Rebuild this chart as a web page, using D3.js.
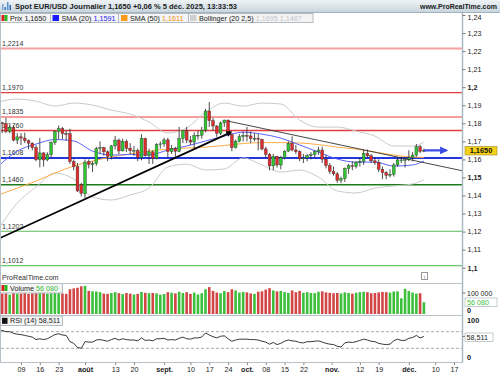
<!DOCTYPE html>
<html><head><meta charset="utf-8">
<script src="https://cdnjs.cloudflare.com/ajax/libs/d3/7.8.5/d3.min.js"></script>
<style>
body{margin:0;background:#fff;}
svg{display:block;font-family:"Liberation Sans",Arial,sans-serif;}
</style></head><body><svg id="chart" width="500" height="375"></svg>
<script>
// daily candles, first one is 2025-07-01 (weekdays only)
const startDate = "2025-07-01";
const opens = [1.1787,1.1803,1.1798,1.1755,1.1778,1.1707,1.1725,1.1718,1.1704,1.1690,
  1.1665,1.1598,1.1636,1.1597,1.1626,1.1693,1.1755,1.1771,1.1743,1.1742,
  1.1588,1.1560,1.1460,1.1410,1.1587,1.1572,1.1576,1.1660,1.1665,1.1642,
  1.1617,1.1675,1.1707,1.1647,1.1700,1.1662,1.1649,1.1649,1.1610,1.1717,
  1.1622,1.1642,1.1606,1.1682,1.1686,1.1708,1.1643,1.1661,1.1645,1.1716,
  1.1760,1.1707,1.1696,1.1733,1.1734,1.1762,1.1868,1.1814,1.1785,1.1745,
  1.1802,1.1818,1.1737,1.1665,1.1701,1.1726,1.1733,1.1730,1.1716,1.1717,
  1.1711,1.1658,1.1628,1.1564,1.1617,1.1569,1.1609,1.1646,1.1689,1.1652,
  1.1643,1.1603,1.1608,1.1620,1.1627,1.1643,1.1652,1.1601,1.1566,1.1534,
  1.1520,1.1484,1.1493,1.1549,1.1565,1.1561,1.1583,1.1590,1.1633,1.1620,
  1.1592,1.1582,1.1545,1.1527,1.1512,1.1518,1.1569,1.1597,1.1597,1.1598,
  1.1610,1.1624,1.1670,1.1645];
const highs = [1.1830,1.1808,1.1830,1.1790,1.1790,1.1745,1.1745,1.1748,1.1710,1.1695,
  1.1680,1.1720,1.1640,1.1640,1.1700,1.1760,1.1788,1.1780,1.1760,1.1770,
  1.1600,1.1580,1.1470,1.1600,1.1600,1.1590,1.1670,1.1700,1.1670,1.1650,
  1.1680,1.1730,1.1716,1.1715,1.1710,1.1690,1.1675,1.1660,1.1740,1.1720,
  1.1660,1.1650,1.1690,1.1700,1.1720,1.1720,1.1680,1.1670,1.1780,1.1760,
  1.1780,1.1730,1.1750,1.1760,1.1780,1.1880,1.1918,1.1830,1.1790,1.1810,
  1.1820,1.1820,1.1745,1.1710,1.1740,1.1755,1.1780,1.1755,1.1745,1.1740,
  1.1715,1.1670,1.1635,1.1630,1.1620,1.1620,1.1650,1.1700,1.1728,1.1680,
  1.1650,1.1630,1.1630,1.1640,1.1650,1.1670,1.1670,1.1625,1.1580,1.1560,
  1.1530,1.1505,1.1555,1.1575,1.1590,1.1590,1.1610,1.1655,1.1655,1.1630,
  1.1610,1.1600,1.1560,1.1535,1.1545,1.1580,1.1610,1.1615,1.1610,1.1650,
  1.1640,1.1685,1.1680,1.1660];
const lows = [1.1760,1.1746,1.1745,1.1745,1.1700,1.1685,1.1680,1.1690,1.1655,1.1650,
  1.1590,1.1556,1.1560,1.1590,1.1610,1.1680,1.1712,1.1710,1.1705,1.1575,
  1.1540,1.1420,1.1395,1.1386,1.1550,1.1530,1.1565,1.1630,1.1620,1.1590,
  1.1600,1.1655,1.1630,1.1645,1.1640,1.1630,1.1620,1.1590,1.1595,1.1615,
  1.1575,1.1575,1.1600,1.1660,1.1670,1.1610,1.1630,1.1610,1.1640,1.1690,
  1.1690,1.1680,1.1660,1.1710,1.1715,1.1750,1.1780,1.1760,1.1725,1.1735,
  1.1780,1.1730,1.1645,1.1660,1.1695,1.1700,1.1700,1.1690,1.1700,1.1650,
  1.1650,1.1610,1.1540,1.1540,1.1555,1.1545,1.1600,1.1640,1.1645,1.1630,
  1.1590,1.1580,1.1590,1.1600,1.1610,1.1625,1.1580,1.1550,1.1520,1.1510,
  1.1470,1.1468,1.1475,1.1520,1.1540,1.1550,1.1560,1.1570,1.1610,1.1580,
  1.1570,1.1530,1.1490,1.1490,1.1500,1.1505,1.1560,1.1580,1.1555,1.1590,
  1.1590,1.1615,1.1635,1.1640];
const closes = [1.1803,1.1798,1.1755,1.1778,1.1707,1.1725,1.1718,1.1704,1.1690,1.1665,
  1.1598,1.1636,1.1597,1.1626,1.1693,1.1755,1.1771,1.1743,1.1742,1.1588,
  1.1560,1.1425,1.1412,1.1585,1.1572,1.1576,1.1660,1.1665,1.1642,1.1617,
  1.1675,1.1707,1.1647,1.1700,1.1662,1.1649,1.1650,1.1610,1.1717,1.1622,
  1.1642,1.1606,1.1682,1.1686,1.1708,1.1643,1.1661,1.1645,1.1716,1.1760,
  1.1707,1.1696,1.1733,1.1734,1.1762,1.1868,1.1814,1.1785,1.1745,1.1802,
  1.1818,1.1737,1.1665,1.1701,1.1726,1.1733,1.1730,1.1716,1.1717,1.1711,
  1.1658,1.1628,1.1564,1.1617,1.1569,1.1609,1.1646,1.1689,1.1652,1.1643,
  1.1603,1.1608,1.1620,1.1627,1.1643,1.1652,1.1601,1.1566,1.1534,1.1520,
  1.1484,1.1493,1.1549,1.1565,1.1561,1.1583,1.1590,1.1633,1.1620,1.1592,
  1.1582,1.1545,1.1527,1.1512,1.1518,1.1569,1.1597,1.1597,1.1598,1.1610,
  1.1624,1.1670,1.1645,1.1650];
const volumes = [102000,98000,99000,92000,100000,97000,98000,101000,96000,99000,
  104000,108000,101000,97000,99000,103000,100000,98000,96000,118000,
  122000,125000,132000,134000,110000,108000,107000,104000,97000,96000,
  100000,104000,99000,95000,100000,97000,93000,96000,105000,101000,
  99000,100000,98000,92000,95000,104000,101000,98000,106000,100000,
  104000,96000,102000,93000,99000,118000,128000,110000,102000,99000,
  109000,104000,118000,112000,102000,105000,103000,98000,96000,106000,
  108000,116000,123000,112000,108000,110000,104000,100000,112000,104000,
  110000,101000,104000,100000,99000,106000,108000,103000,101000,99000,
  100000,98000,103000,100000,97000,101000,104000,106000,104000,99000,
  100000,103000,105000,104000,102000,107000,108000,75000,120000,110000,
  102000,97000,99000,56080];
const rsi = [75,73,70,70,66,64,63,61,59,57,
  51,53,51,53,58,63,65,62,61,46,
  42,32,30,46,45,45,50,51,49,47,
  51,54,50,53,51,50,50,48,55,49,
  50,48,53,53,54,50,51,50,54,57,
  53,52,55,55,57,67,62,58,55,59,
  60,53,47,50,52,52,52,51,51,50,
  47,45,40,44,39,42,47,50,48,47,
  44,43,46,46,47,48,45,42,40,39,
  35,33,43,45,44,46,49,52,50,47,
  46,42,40,39,40,48,52,49,49,54,
  56,61,55,58.511];

// indicator lines, one value per week
const maIndex = [0,5,10,15,20,25,30,35,40,45,50,55,60,65,70,75,80,85,90,95,100,105,110,113];
const sma20 = [1.1563,1.1646,1.1685,1.1710,1.1702,1.1646,1.1624,1.1627,1.1624,1.1652,1.1674,1.1702,
  1.1729,1.1751,1.1740,1.1718,1.1680,1.1641,1.1602,1.1585,1.1585,1.1563,1.1569,1.1591];
const sma50 = [1.1403,1.1441,1.1480,1.1524,1.1563,1.1591,1.1613,1.1630,1.1646,1.1657,1.1663,1.1668,
  1.1677,1.1688,1.1693,1.1693,1.1691,1.1682,1.1668,1.1657,1.1641,1.1624,1.1613,1.1611];
const bbUpper = [1.1918,1.1934,1.1923,1.1895,1.1912,1.1901,1.1873,1.1851,1.1807,1.1746,1.1774,1.1862,
  1.1912,1.1895,1.1912,1.1907,1.1818,1.1779,1.1779,1.1757,1.1729,1.1674,1.1674,1.1695];
const bbLower = [1.1214,1.1358,1.1447,1.1524,1.1491,1.1392,1.1375,1.1403,1.1441,1.1558,1.1574,1.1541,
  1.1547,1.1608,1.1569,1.1530,1.1541,1.1502,1.1425,1.1414,1.1441,1.1453,1.1464,1.1487];

const levelValues = [1.2214,1.1970,1.1835,1.1760,1.1608,1.1460,1.1202,1.1012];
const levelLabels = ["1,2214","1,1970","1,1835","1,1760","1,1608","1,1460","1,1202","1,1012"];

// [candle index, price]
const supportLine = [[0,1.1160],[61.7,1.1750]];
const resistLine = [[61,1.1812],[123.2,1.1537]];
const arrowLine = [[113,1.1650],[119,1.1650]];

const priceTicks = [1.24,1.23,1.22,1.21,1.2,1.19,1.18,1.17,1.16,1.15,1.14,1.13,1.12,1.11,1.1];
const priceTickLabels = ["1,24","1,23","1,22","1,21","1,2","1,19","1,18","1,17","1,16","1,15","1,14","1,13","1,12","1,11","1,1"];

const xTickDates = ["2025-07-09","2025-07-16","2025-07-23","2025-08-01","2025-08-13","2025-08-20","2025-09-01",
  "2025-09-10","2025-09-17","2025-09-24","2025-10-01","2025-10-08","2025-10-15","2025-10-22","2025-11-01",
  "2025-11-12","2025-11-19","2025-12-01","2025-12-10","2025-12-17"];
const xTickLabels = ["09","16","23","août","13","20","sept.","10","17","24","oct.","08","15","22","nov.","12","19","déc.","10","17"];
const monthLabels = ["août","sept.","oct.","nov.","déc."];

// trading day index of a date (weekends fall between two days)
function dayIndex(s) {
	const t0 = Date.parse(startDate + "T00:00:00Z"), t1 = Date.parse(s + "T00:00:00Z");
	let n = 0;
	for (let t = t0; t < t1; t += 86400000) {
		const wd = new Date(t).getUTCDay();
		if (wd !== 0 && wd !== 6) n++;
	}
	const wd1 = new Date(t1).getUTCDay();
	return (wd1 === 0 || wd1 === 6) ? n - 0.5 : n;
}

const svg = d3.select("#chart");
const axisX = 462.5;

const x = d3.scaleLinear().domain([6, 121]).range([21, 454]);
const y = d3.scaleLinear().domain([1.10, 1.24]).range([267.7, 15]);
const yVol = d3.scaleLinear().domain([0, 100000]).range([314, 293]);
const yRsi = d3.scaleLinear().domain([0, 100]).range([360.8, 319.2]);

const defs = svg.append("defs");
const hg = defs.append("linearGradient").attr("id", "hdr").attr("x1", 0).attr("y1", 0).attr("x2", 0).attr("y2", 1);
hg.append("stop").attr("offset", "0%").attr("stop-color", "#eef3f6");
hg.append("stop").attr("offset", "100%").attr("stop-color", "#c9d6de");
defs.append("clipPath").attr("id", "plot").append("rect")
	.attr("x", 1).attr("y", 23).attr("width", axisX - 1).attr("height", 260);
defs.append("clipPath").attr("id", "rsiclip").append("rect")
	.attr("x", 1).attr("y", 316).attr("width", axisX - 1).attr("height", 46);
defs.append("marker").attr("id", "ablack").attr("viewBox", "0 0 10 10").attr("refX", 7).attr("refY", 5)
	.attr("markerUnits", "userSpaceOnUse").attr("markerWidth", 6).attr("markerHeight", 6).attr("orient", "auto")
	.append("path").attr("d", "M0,0L10,5L0,10z").attr("fill", "#000");
defs.append("marker").attr("id", "ablue").attr("viewBox", "0 0 10 10").attr("refX", 8).attr("refY", 5)
	.attr("markerUnits", "userSpaceOnUse").attr("markerWidth", 8).attr("markerHeight", 8).attr("orient", "auto")
	.append("path").attr("d", "M0,0L10,5L0,10z").attr("fill", "#3a4ee6");

// header
svg.append("rect").attr("x", 0).attr("y", 0).attr("width", 500).attr("height", 12).attr("fill", "url(#hdr)");
svg.append("line").attr("x1", 0).attr("x2", 500).attr("y1", 12.5).attr("y2", 12.5).attr("stroke", "#a3b3be");
[[2, 6, "#7aa7d8"], [4.5, 3, "#3b78c6"], [7, 8, "#5d93d2"], [9.5, 5, "#2f66b5"]].forEach(b => {
	svg.append("rect").attr("x", b[0]).attr("y", 10 - b[1]).attr("width", 1.5).attr("height", b[1]).attr("fill", b[2]);
});
svg.append("text").attr("x", 15).attr("y", 9).attr("font-size", 7.5).attr("font-weight", "bold").attr("fill", "#1b1b1b")
	.text("Spot EUR/USD Journalier 1,1650 +0,06 % 5 déc. 2025, 13:33:53");
svg.append("text").attr("x", 497).attr("y", 9).attr("text-anchor", "end").attr("font-size", 7).attr("font-weight", "bold")
	.attr("fill", "#1b1b1b").text("www.ProRealTime.com");

// legend row
const leg = svg.append("g");
leg.append("rect").attr("x", 0.5).attr("y", 13.5).attr("width", 312.5).attr("height", 9).attr("fill", "#f4f4f4").attr("stroke", "#b3bcc3");
[50.5, 118.5, 188.5].forEach(d => leg.append("line").attr("x1", d).attr("x2", d).attr("y1", 13.5).attr("y2", 22.5).attr("stroke", "#b3bcc3"));
leg.append("rect").attr("x", 1.5).attr("y", 15).attr("width", 3).attr("height", 6).attr("fill", "#d22");
leg.append("rect").attr("x", 4.5).attr("y", 15).attr("width", 3).attr("height", 6).attr("fill", "#2b2");
leg.append("rect").attr("x", 52.5).attr("y", 15).attr("width", 6.5).attr("height", 6).attr("fill", "#1a1aff");
leg.append("rect").attr("x", 121).attr("y", 15).attr("width", 6.5).attr("height", 6).attr("fill", "#ff9a1a");
leg.append("rect").attr("x", 190).attr("y", 15).attr("width", 6.5).attr("height", 6).attr("fill", "#cfcfcf");
function legText(xp, parts) {
	const t = leg.append("text").attr("x", xp).attr("y", 20.6).attr("font-size", 7.2);
	parts.forEach(p => t.append("tspan").attr("fill", p[1]).text(p[0]));
}
legText(10, [["Prix 1,1650", "#222"]]);
legText(61.5, [["SMA (20) ", "#222"], ["1,1591", "#2323ff"]]);
legText(130, [["SMA (50) ", "#222"], ["1,1611", "#f5950f"]]);
legText(199, [["Bollinger (20 2,5) ", "#222"], ["1,1695 1,1487", "#c4c4c4"]]);

// frame and panel separators
svg.append("line").attr("x1", 0.5).attr("x2", 0.5).attr("y1", 23).attr("y2", 362).attr("stroke", "#b7c1c8");
[283.5, 315.5, 362.5].forEach(v => svg.append("line").attr("x1", 0).attr("x2", axisX).attr("y1", v).attr("y2", v).attr("stroke", "#b9c2c8"));

// price panel
const plot = svg.append("g").attr("clip-path", "url(#plot)");
const levelColors = ["#f4a0a0", "#e23c3c", "#f27c7c", "#e23c3c", "#2436e0", "#1d7a1d", "#5cba5c", "#6cc46c"];
const levelWidths = [2, 1.3, 1.5, 1.3, 2, 1.5, 1.2, 1.2];
levelValues.forEach((v, k) => {
	plot.append("line").attr("x1", 1).attr("x2", axisX).attr("y1", y(v)).attr("y2", y(v))
		.attr("stroke", levelColors[k]).attr("stroke-width", levelWidths[k]);
	plot.append("text").attr("x", 2).attr("y", y(v) - 2.5).attr("font-size", 7).attr("fill", "#333").text(levelLabels[k]);
});

const maLine = (vals) => d3.line().curve(d3.curveMonotoneX)
	.x((d, k) => x(maIndex[k])).y(d => y(d))(vals);
plot.append("path").attr("d", maLine(bbUpper)).attr("fill", "none").attr("stroke", "#cacaca").attr("stroke-width", 1);
plot.append("path").attr("d", maLine(bbLower)).attr("fill", "none").attr("stroke", "#cacaca").attr("stroke-width", 1);
plot.append("path").attr("d", maLine(sma50)).attr("fill", "none").attr("stroke", "#ffab45").attr("stroke-width", 1);
plot.append("path").attr("d", maLine(sma20)).attr("fill", "none").attr("stroke", "#5a64ff").attr("stroke-width", 1);

const candles = plot.selectAll("g.candle").data(closes).enter().append("g").attr("class", "candle");
candles.append("line")
	.attr("x1", (d, i) => x(i)).attr("x2", (d, i) => x(i))
	.attr("y1", (d, i) => y(highs[i])).attr("y2", (d, i) => y(lows[i]))
	.attr("stroke", "#222").attr("stroke-width", 0.8);
candles.append("rect")
	.attr("x", (d, i) => x(i) - 1.4).attr("width", 2.8)
	.attr("y", (d, i) => y(Math.max(opens[i], d)))
	.attr("height", (d, i) => Math.max(0.8, Math.abs(y(opens[i]) - y(d))))
	.attr("fill", (d, i) => d >= opens[i] ? "#2fc52f" : "#e02b2b")
	.attr("stroke", "#333").attr("stroke-width", 0.4);

const tline = d3.line().x(d => x(d[0])).y(d => y(d[1]));
plot.append("path").attr("d", tline(supportLine)).attr("stroke", "#000").attr("stroke-width", 1.8).attr("fill", "none")
	.attr("marker-end", "url(#ablack)");
plot.append("path").attr("d", tline(resistLine)).attr("stroke", "#333").attr("stroke-width", 0.9).attr("fill", "none");
plot.append("path").attr("d", tline(arrowLine)).attr("stroke", "#3a4ee6").attr("stroke-width", 2.2).attr("fill", "none")
	.attr("marker-end", "url(#ablue)");

svg.append("text").attr("x", 2).attr("y", 280).attr("font-size", 7.1).attr("fill", "#333").text("ProRealTime.com");
svg.append("rect").attr("x", 421.5).attr("y", 272.5).attr("width", 6).attr("height", 7).attr("fill", "#fff").attr("stroke", "#999");
svg.append("text").attr("x", 424.5).attr("y", 278.6).attr("text-anchor", "middle").attr("font-size", 6).attr("fill", "#888").text("i");

// right axis
svg.append("line").attr("x1", axisX).attr("x2", axisX).attr("y1", 12.5).attr("y2", 362.5).attr("stroke", "#a9bac5").attr("stroke-width", 1.5);
const yAxis = d3.axisRight(y).tickValues(priceTicks).tickSize(3).tickPadding(2)
	.tickFormat((d, k) => priceTickLabels[k]);
const ya = svg.append("g").attr("transform", "translate(" + axisX + ",0)").call(yAxis);
ya.select(".domain").remove();
ya.selectAll("line").attr("stroke", "#777");
ya.selectAll("text").attr("font-size", 7.2).attr("fill", "#222").attr("font-family", "Liberation Sans, Arial, sans-serif")
	.attr("font-weight", d => [1.2, 1.15, 1.1].includes(d) ? "bold" : "normal")
	.attr("dy", d => d === 1.24 ? "0.6em" : "0.32em");

svg.append("rect").attr("x", 465).attr("y", 146.5).attr("width", 32).attr("height", 8.5)
	.attr("fill", "#f7d117").attr("stroke", "#9a8a30").attr("stroke-width", 0.6);
svg.append("text").attr("x", 481).attr("y", 153.4).attr("text-anchor", "middle").attr("font-size", 7.4).attr("font-weight", "bold")
	.attr("fill", "#111").text("1,1650");

// volume panel
const vol = svg.append("g");
vol.selectAll("rect").data(volumes).enter().append("rect")
	.attr("x", (d, i) => x(i) - 1.3).attr("width", 2.6)
	.attr("y", d => yVol(d)).attr("height", d => yVol(0) - yVol(d))
	.attr("fill", (d, i) => closes[i] >= opens[i] ? "#3cc03c" : "#d24646");
vol.append("rect").attr("x", 0.5).attr("y", 283.5).attr("width", 62).attr("height", 9.5).attr("fill", "#f4f4f4").attr("stroke", "#b3bcc3");
vol.append("rect").attr("x", 1.5).attr("y", 285).attr("width", 3).attr("height", 6).attr("fill", "#d22");
vol.append("rect").attr("x", 4.5).attr("y", 285).attr("width", 3).attr("height", 6).attr("fill", "#2b2");
const vt = vol.append("text").attr("x", 10).attr("y", 290.8).attr("font-size", 7.2);
vt.append("tspan").attr("fill", "#222").text("Volume ");
vt.append("tspan").attr("fill", "#3cbf3c").text("56 080");
svg.append("line").attr("x1", axisX).attr("x2", axisX + 3).attr("y1", yVol(100000)).attr("y2", yVol(100000)).attr("stroke", "#777");
svg.append("text").attr("x", 467).attr("y", yVol(100000) + 2.5).attr("font-size", 7).attr("fill", "#222").text("100 000");
svg.append("rect").attr("x", 465).attr("y", 298).attr("width", 32).attr("height", 8.5).attr("fill", "#fff").attr("stroke", "#9aa").attr("stroke-width", 0.6);
svg.append("text").attr("x", 467).attr("y", 304.8).attr("font-size", 7.2).attr("fill", "#3cbf3c").text("56 080");
svg.append("text").attr("x", 467).attr("y", 313).attr("font-size", 7.4).attr("font-weight", "bold").attr("fill", "#222").text("0");

// RSI panel
const rp = svg.append("g").attr("clip-path", "url(#rsiclip)");
[70, 30].forEach(v => rp.append("line").attr("x1", 1).attr("x2", axisX).attr("y1", yRsi(v)).attr("y2", yRsi(v))
	.attr("stroke", "#a8a8a8").attr("stroke-dasharray", "3,2"));
rp.append("path").attr("d", d3.line().x((d, i) => x(i)).y(d => yRsi(d))(rsi))
	.attr("fill", "none").attr("stroke", "#222").attr("stroke-width", 0.9);
svg.append("rect").attr("x", 0.5).attr("y", 316).attr("width", 62).attr("height", 9.5).attr("fill", "#f4f4f4").attr("stroke", "#b3bcc3");
svg.append("rect").attr("x", 2).attr("y", 317.8).attr("width", 5.5).attr("height", 6).attr("fill", "#111");
svg.append("text").attr("x", 10).attr("y", 323.4).attr("font-size", 7.2).attr("fill", "#222").text("RSI (14) 58,511");
svg.append("text").attr("x", 467).attr("y", 322.6).attr("font-size", 7.4).attr("font-weight", "bold").attr("fill", "#222").text("100");
svg.append("text").attr("x", 467).attr("y", 360).attr("font-size", 7.4).attr("font-weight", "bold").attr("fill", "#222").text("0");
svg.append("line").attr("x1", axisX).attr("x2", axisX + 3).attr("y1", yRsi(58.511)).attr("y2", yRsi(58.511)).attr("stroke", "#777");
svg.append("rect").attr("x", 465).attr("y", 333).attr("width", 28).attr("height", 8.5).attr("fill", "#fff").attr("stroke", "#9aa").attr("stroke-width", 0.6);
svg.append("text").attr("x", 466.5).attr("y", 339.8).attr("font-size", 7.2).attr("fill", "#222").text("58,511");

// date axis
const xAxis = d3.axisBottom(x).tickValues(xTickDates.map(dayIndex)).tickSize(2.5).tickPadding(1.5)
	.tickFormat((d, k) => xTickLabels[k]);
const xa = svg.append("g").attr("transform", "translate(0,362.5)").call(xAxis);
xa.select(".domain").remove();
xa.selectAll("line").attr("stroke", "#888");
xa.selectAll("text").attr("font-size", 7.2).attr("fill", "#222").attr("font-family", "Liberation Sans, Arial, sans-serif")
	.attr("font-weight", (d, k) => monthLabels.includes(xTickLabels[k]) ? "bold" : "normal");
</script></body></html>
